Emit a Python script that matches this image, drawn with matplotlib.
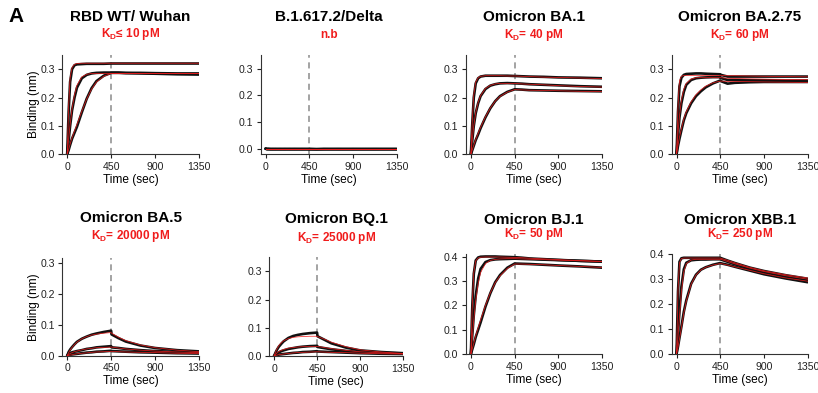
import numpy as np
import matplotlib
matplotlib.use("Agg")
import matplotlib.pyplot as plt

plt.rcParams['font.family'] = ['Liberation Sans', 'DejaVu Sans']
plt.rcParams['mathtext.fontset'] = 'custom'
plt.rcParams['mathtext.rm'] = 'Liberation Sans'
plt.rcParams['mathtext.bf'] = 'Liberation Sans:bold'

t = [0, 15, 30, 50, 75, 100, 150, 200, 250, 300, 375, 450, 455, 525, 600, 750, 900, 1125, 1350]

titles = ["RBD WT/ Wuhan", "B.1.617.2/Delta", "Omicron BA.1", "Omicron BA.2.75",
          "Omicron BA.5", "Omicron BQ.1", "Omicron BJ.1", "Omicron XBB.1"]
kd_labels = [r"$\mathbf{K_D}$≤ 10 pM", "n.b", r"$\mathbf{K_D}$= 40 pM", r"$\mathbf{K_D}$= 60 pM",
             r"$\mathbf{K_D}$= 20000 pM", r"$\mathbf{K_D}$= 25000 pM", r"$\mathbf{K_D}$= 50 pM",
             r"$\mathbf{K_D}$= 250 pM"]

# measured curves (nm), three concentrations per variant
wuhan_data = [
    [0, 0.15, 0.255, 0.3, 0.314, 0.317, 0.318, 0.319, 0.319, 0.319, 0.319, 0.32, 0.32, 0.32, 0.32, 0.32, 0.32, 0.32, 0.32],
    [0, 0.05, 0.1, 0.155, 0.2, 0.235, 0.268, 0.28, 0.285, 0.287, 0.288, 0.288, 0.288, 0.288, 0.287, 0.287, 0.286, 0.285, 0.285],
    [0, 0.015, 0.033, 0.055, 0.076, 0.097, 0.148, 0.196, 0.233, 0.258, 0.277, 0.287, 0.287, 0.287, 0.286, 0.285, 0.284, 0.282, 0.281],
]
wuhan_fit = [
    [0, 0.17, 0.27, 0.306, 0.317, 0.32, 0.321, 0.321, 0.321, 0.321, 0.321, 0.321, 0.321, 0.321, 0.321, 0.321, 0.321, 0.321, 0.321],
    [0, 0.055, 0.105, 0.16, 0.21, 0.243, 0.273, 0.282, 0.285, 0.285, 0.285, 0.285, 0.285, 0.285, 0.285, 0.285, 0.285, 0.285, 0.285],
    [0, 0.017, 0.036, 0.058, 0.082, 0.105, 0.152, 0.195, 0.23, 0.255, 0.275, 0.285, 0.285, 0.285, 0.285, 0.285, 0.285, 0.285, 0.285],
]
delta_data = [
    [0, -0.001, -0.002, -0.001, -0.002, -0.002, -0.001, -0.002, -0.002, -0.001, -0.002, -0.002, -0.002, -0.002, -0.001, -0.002, -0.001, -0.002, -0.002],
    [0, -0.002, -0.001, -0.002, -0.002, -0.001, -0.002, -0.002, -0.001, -0.002, -0.002, -0.001, -0.002, -0.002, -0.002, -0.001, -0.002, -0.002, -0.001],
    [0, -0.001, -0.001, -0.002, -0.001, -0.002, -0.002, -0.001, -0.002, -0.002, -0.001, -0.002, -0.001, -0.002, -0.002, -0.002, -0.002, -0.001, -0.002],
]
delta_fit = [
    [0] * 19,
    [0] * 19,
    [0] * 19,
]
ba1_data = [
    [0, 0.11, 0.2, 0.25, 0.268, 0.274, 0.277, 0.277, 0.277, 0.277, 0.277, 0.276, 0.276, 0.275, 0.274, 0.273, 0.271, 0.27, 0.268],
    [0, 0.05, 0.1, 0.145, 0.18, 0.205, 0.23, 0.242, 0.247, 0.25, 0.251, 0.25, 0.25, 0.249, 0.247, 0.245, 0.243, 0.24, 0.238],
    [0, 0.015, 0.03, 0.05, 0.07, 0.092, 0.13, 0.162, 0.187, 0.205, 0.22, 0.229, 0.229, 0.228, 0.226, 0.225, 0.224, 0.223, 0.222],
]
ba1_fit = [
    [0, 0.12, 0.21, 0.255, 0.27, 0.275, 0.277, 0.277, 0.277, 0.277, 0.276, 0.276, 0.276, 0.275, 0.274, 0.272, 0.271, 0.269, 0.267],
    [0, 0.052, 0.1, 0.147, 0.183, 0.207, 0.232, 0.243, 0.248, 0.25, 0.25, 0.25, 0.25, 0.248, 0.247, 0.245, 0.242, 0.239, 0.237],
    [0, 0.016, 0.032, 0.052, 0.074, 0.095, 0.132, 0.163, 0.187, 0.204, 0.219, 0.228, 0.228, 0.227, 0.226, 0.225, 0.224, 0.222, 0.221],
]
ba275_data = [
    [0, 0.15, 0.24, 0.27, 0.28, 0.283, 0.284, 0.285, 0.285, 0.284, 0.283, 0.282, 0.28, 0.274, 0.274, 0.274, 0.274, 0.274, 0.274],
    [0, 0.07, 0.13, 0.18, 0.22, 0.245, 0.262, 0.268, 0.27, 0.271, 0.272, 0.272, 0.269, 0.262, 0.262, 0.261, 0.261, 0.26, 0.26],
    [0, 0.03, 0.055, 0.085, 0.12, 0.145, 0.18, 0.205, 0.222, 0.236, 0.25, 0.26, 0.258, 0.249, 0.252, 0.254, 0.255, 0.255, 0.255],
]
ba275_fit = [
    [0, 0.17, 0.26, 0.275, 0.278, 0.278, 0.278, 0.278, 0.278, 0.278, 0.278, 0.278, 0.278, 0.277, 0.277, 0.276, 0.275, 0.274, 0.273],
    [0, 0.075, 0.135, 0.19, 0.23, 0.25, 0.265, 0.27, 0.27, 0.27, 0.27, 0.27, 0.27, 0.268, 0.267, 0.266, 0.265, 0.264, 0.263],
    [0, 0.032, 0.06, 0.09, 0.125, 0.15, 0.185, 0.21, 0.227, 0.24, 0.252, 0.258, 0.258, 0.257, 0.257, 0.256, 0.255, 0.254, 0.253],
]
ba5_data = [
    [0, 0.012, 0.02, 0.028, 0.037, 0.045, 0.055, 0.062, 0.068, 0.072, 0.077, 0.081, 0.069, 0.057, 0.046, 0.033, 0.025, 0.018, 0.014],
    [0, 0.005, 0.008, 0.011, 0.013, 0.015, 0.018, 0.022, 0.024, 0.027, 0.029, 0.031, 0.027, 0.025, 0.022, 0.018, 0.015, 0.012, 0.01],
    [0, 0.002, 0.003, 0.004, 0.005, 0.006, 0.008, 0.01, 0.011, 0.013, 0.014, 0.016, 0.015, 0.014, 0.013, 0.011, 0.01, 0.008, 0.007],
]
ba5_fit = [
    [0, 0.01, 0.018, 0.027, 0.036, 0.044, 0.055, 0.062, 0.067, 0.07, 0.073, 0.075, 0.073, 0.06, 0.049, 0.035, 0.026, 0.018, 0.013],
    [0, 0.004, 0.007, 0.01, 0.013, 0.015, 0.019, 0.022, 0.024, 0.026, 0.027, 0.028, 0.028, 0.025, 0.022, 0.018, 0.015, 0.012, 0.01],
    [0, 0.001, 0.002, 0.003, 0.005, 0.006, 0.008, 0.009, 0.011, 0.012, 0.013, 0.014, 0.014, 0.013, 0.012, 0.011, 0.01, 0.008, 0.007],
]
bq1_data = [
    [0, 0.012, 0.022, 0.033, 0.043, 0.052, 0.064, 0.071, 0.075, 0.078, 0.081, 0.083, 0.07, 0.058, 0.045, 0.03, 0.02, 0.014, 0.01],
    [0, 0.005, 0.009, 0.013, 0.017, 0.02, 0.025, 0.028, 0.031, 0.033, 0.035, 0.036, 0.032, 0.028, 0.024, 0.018, 0.014, 0.011, 0.009],
    [0, 0.002, 0.003, 0.005, 0.006, 0.007, 0.009, 0.011, 0.012, 0.014, 0.015, 0.017, 0.016, 0.015, 0.014, 0.012, 0.01, 0.008, 0.007],
]
bq1_fit = [
    [0, 0.014, 0.025, 0.037, 0.047, 0.054, 0.062, 0.066, 0.068, 0.069, 0.07, 0.07, 0.069, 0.06, 0.049, 0.033, 0.022, 0.014, 0.009],
    [0, 0.006, 0.011, 0.016, 0.02, 0.023, 0.028, 0.03, 0.032, 0.033, 0.034, 0.034, 0.034, 0.03, 0.026, 0.02, 0.015, 0.011, 0.008],
    [0, 0.002, 0.003, 0.005, 0.006, 0.007, 0.009, 0.011, 0.012, 0.013, 0.014, 0.015, 0.015, 0.014, 0.013, 0.012, 0.01, 0.008, 0.007],
]
bj1_data = [
    [0, 0.2, 0.33, 0.385, 0.397, 0.4, 0.401, 0.401, 0.401, 0.4, 0.399, 0.398, 0.398, 0.396, 0.393, 0.39, 0.387, 0.383, 0.38],
    [0, 0.08, 0.16, 0.24, 0.31, 0.35, 0.378, 0.386, 0.389, 0.39, 0.391, 0.392, 0.392, 0.391, 0.39, 0.388, 0.386, 0.383, 0.38],
    [0, 0.02, 0.04, 0.07, 0.1, 0.13, 0.195, 0.25, 0.295, 0.325, 0.355, 0.372, 0.372, 0.371, 0.37, 0.367, 0.364, 0.36, 0.355],
]
bj1_fit = [
    [0, 0.21, 0.335, 0.383, 0.395, 0.398, 0.399, 0.399, 0.399, 0.399, 0.398, 0.397, 0.397, 0.396, 0.394, 0.391, 0.388, 0.384, 0.381],
    [0, 0.07, 0.14, 0.22, 0.29, 0.335, 0.372, 0.385, 0.389, 0.391, 0.392, 0.392, 0.392, 0.391, 0.39, 0.388, 0.386, 0.383, 0.38],
    [0, 0.022, 0.044, 0.075, 0.108, 0.14, 0.2, 0.252, 0.293, 0.322, 0.352, 0.37, 0.37, 0.37, 0.369, 0.367, 0.364, 0.36, 0.356],
]
xbb1_data = [
    [0, 0.25, 0.37, 0.384, 0.386, 0.386, 0.386, 0.386, 0.386, 0.386, 0.386, 0.386, 0.385, 0.375, 0.365, 0.347, 0.333, 0.316, 0.302],
    [0, 0.08, 0.17, 0.27, 0.34, 0.366, 0.376, 0.378, 0.379, 0.379, 0.38, 0.38, 0.379, 0.37, 0.36, 0.343, 0.328, 0.311, 0.297],
    [0, 0.03, 0.065, 0.11, 0.17, 0.215, 0.282, 0.318, 0.338, 0.348, 0.358, 0.365, 0.364, 0.358, 0.35, 0.335, 0.32, 0.303, 0.288],
]
xbb1_fit = [
    [0, 0.26, 0.365, 0.383, 0.385, 0.385, 0.385, 0.385, 0.385, 0.385, 0.385, 0.385, 0.384, 0.376, 0.366, 0.348, 0.334, 0.318, 0.305],
    [0, 0.07, 0.15, 0.25, 0.33, 0.362, 0.377, 0.38, 0.38, 0.38, 0.38, 0.38, 0.38, 0.371, 0.362, 0.345, 0.331, 0.314, 0.3],
    [0, 0.028, 0.06, 0.105, 0.165, 0.212, 0.28, 0.317, 0.337, 0.348, 0.357, 0.363, 0.363, 0.357, 0.35, 0.336, 0.322, 0.305, 0.292],
]

all_data = [wuhan_data, delta_data, ba1_data, ba275_data, ba5_data, bq1_data, bj1_data, xbb1_data]
all_fit = [wuhan_fit, delta_fit, ba1_fit, ba275_fit, ba5_fit, bq1_fit, bj1_fit, xbb1_fit]
yticks = [[0, 0.1, 0.2, 0.3]] * 6 + [[0, 0.1, 0.2, 0.3, 0.4]] * 2
ylims = [(0, 0.35), (-0.02, 0.352), (0, 0.35), (0, 0.35),
         (0, 0.316), (0, 0.35), (0, 0.41), (0, 0.40)]

W, H = 818, 393
# axes boxes in pixels: left, right, top, bottom
boxes = [(62.3, 199, 55, 154.3), (260.7, 396.7, 55, 154), (466, 602, 55, 154.3), (671.7, 807.7, 55, 154.3),
         (62.3, 199, 258.3, 355.7), (269.3, 403, 257.3, 356), (466, 602.3, 254.3, 354), (671.7, 807.7, 254.3, 354)]
title_y = [17, 17, 17, 17, 218.5, 219.5, 220, 219.5]
kd_y = [34, 35, 35, 35, 236.5, 237.5, 234.5, 234.5]

fig = plt.figure(figsize=(W / 100, H / 100), dpi=100)
red = '#f01c1c'

for i in range(8):
    l, r, tp, b = boxes[i]
    ax = fig.add_axes([l / W, 1 - b / H, (r - l) / W, (b - tp) / H])
    for d, f in zip(all_data[i], all_fit[i]):
        ax.plot(t, d, color='#111111', lw=1.9, solid_capstyle='round', zorder=2)
        ax.plot(t, f, color=red, lw=0.55, alpha=0.9, zorder=3)
    ax.axvline(450, color='#8a8a8a', lw=1.1, ls=(0, (4, 3)), zorder=1)
    ax.set_xlim(-50, 1350)
    ax.set_ylim(*ylims[i])
    ax.set_xticks([0, 450, 900, 1350])
    ax.set_yticks(yticks[i])
    ax.set_yticklabels(["%.1f" % v for v in yticks[i]])
    for s in ['top', 'right']:
        ax.spines[s].set_visible(False)
    for s in ['left', 'bottom']:
        ax.spines[s].set_linewidth(0.8)
        ax.spines[s].set_color('#333333')
    ax.tick_params(direction='out', length=3, width=0.8, labelsize=7.6, pad=2.5, colors='#222222')
    ax.set_xlabel("Time (sec)", fontsize=8.6, labelpad=1.5)
    if i in (0, 4):
        ax.set_ylabel("Binding (nm)", fontsize=8.6, labelpad=0)
    cx = (l + r) / 2 / W
    fig.text(cx, 1 - title_y[i] / H, titles[i], ha='center', va='center',
             fontsize=11, fontweight='bold')
    fig.text(cx, 1 - kd_y[i] / H, kd_labels[i], ha='center', va='center',
             fontsize=8.5, fontweight='bold', color=red)

fig.text(16.5 / W, 1 - 17 / H, "A", ha='center', va='center', fontsize=15, fontweight='bold')

fig.savefig("out.png", dpi=100)
